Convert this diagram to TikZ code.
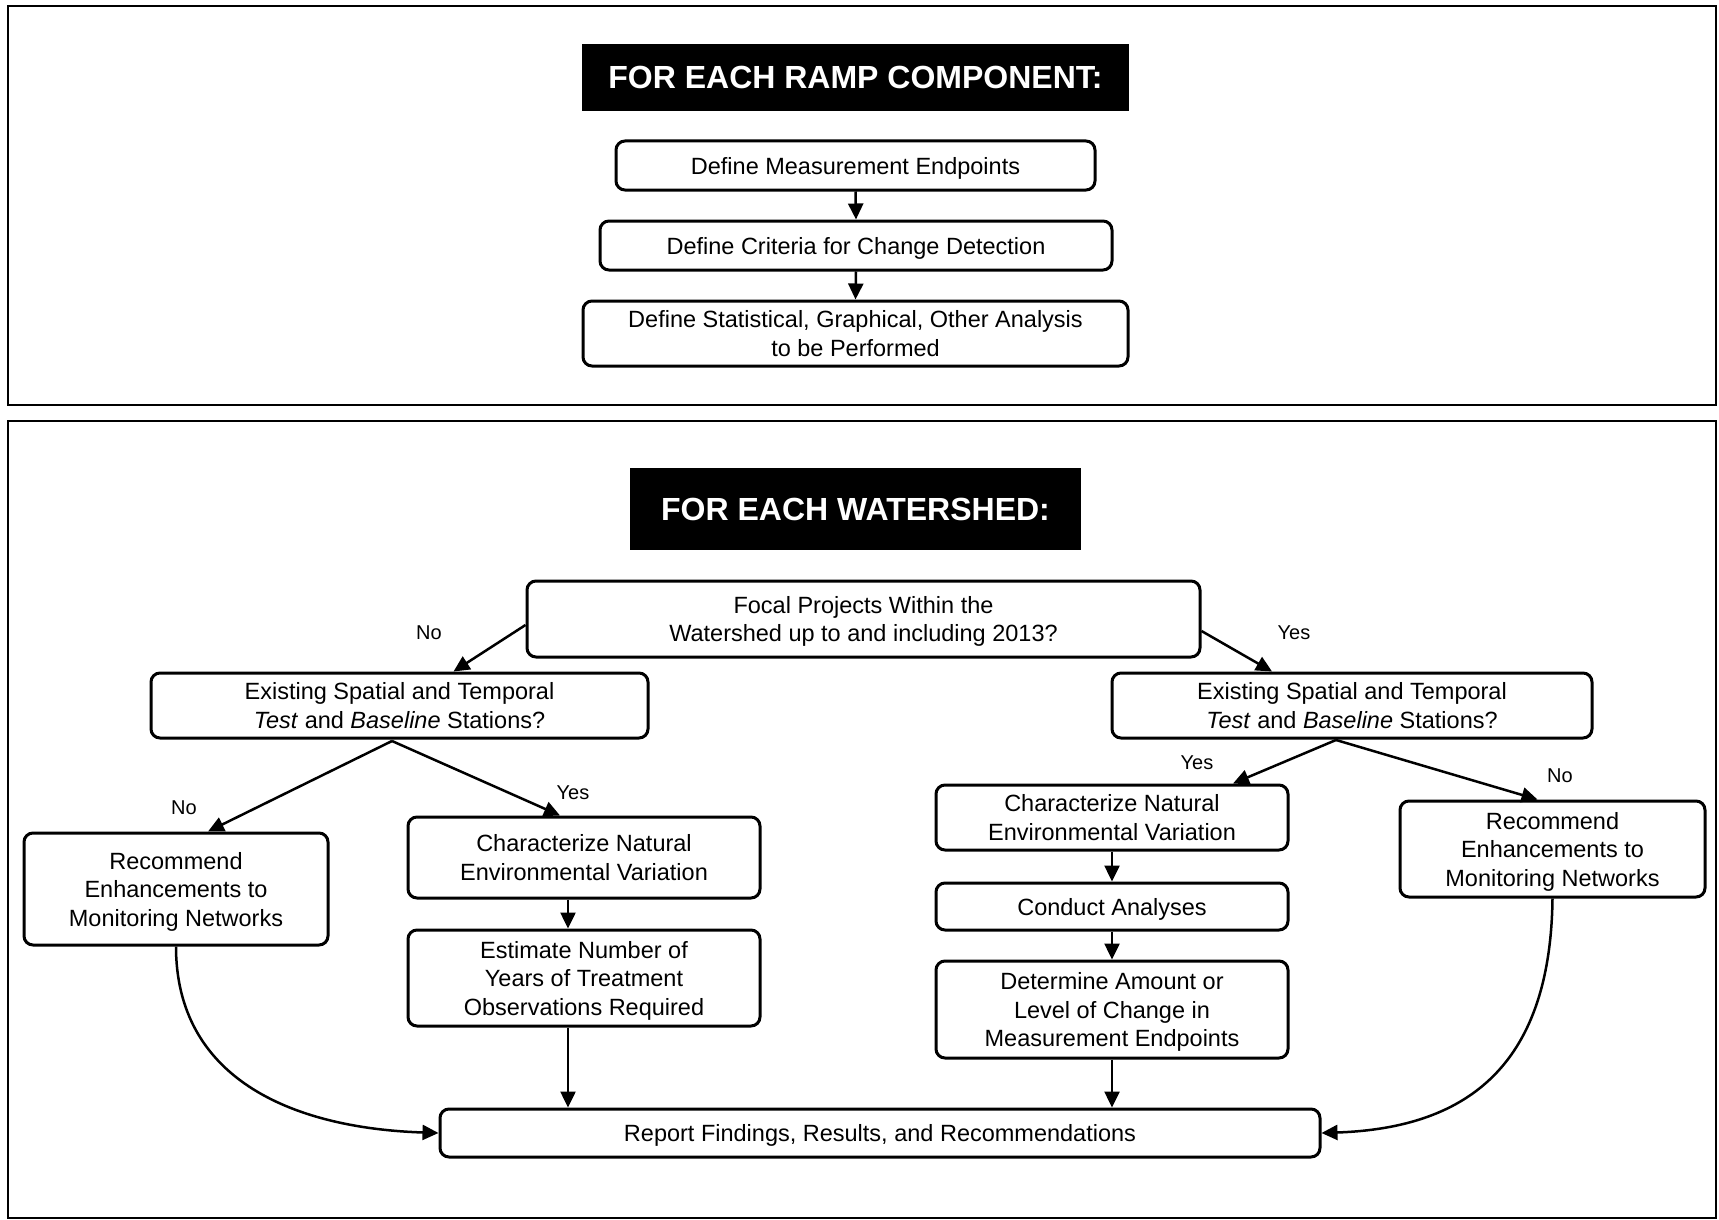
\documentclass[tikz,border=0pt]{standalone}
\usepackage{fontspec}
\setmainfont{Liberation Sans}
\usetikzlibrary{arrows.meta,calc}
\begin{document}
\begin{tikzpicture}[x=1pt,y=-1pt,
 box/.style={draw, line width=3pt, rounded corners=9pt, align=center, inner sep=0pt, text depth=0pt, font=\fontsize{23.5}{28.5}\selectfont},
 hdr/.style={fill=black, text=white, inner sep=0pt, text depth=0pt, font=\fontsize{32}{36}\selectfont\bfseries},
 arr/.style={line width=2.5pt, -{Triangle[length=16pt,width=15pt]}},
 lbl/.style={font=\fontsize{20}{24}\selectfont, inner sep=0pt},
 panel/.style={draw, line width=2.6pt}]
\useasboundingbox (0,0) rectangle (1719,1220);
% panels
\draw[panel] (8,6) rectangle (1716,405);
\draw[panel] (8,421) rectangle (1716,1218);
% top panel
\node[hdr, minimum width=547pt, minimum height=67pt] (h1) at (855.5,77.5) {FOR EACH RAMP COMPONENT:};
\node[box, minimum width=479pt, minimum height=49pt] (m1) at (855.5,165.5) {Define Measurement Endpoints};
\node[box, minimum width=512pt, minimum height=49pt] (m2) at (856,245.5) {Define Criteria for Change Detection};
\node[box, minimum width=545pt, minimum height=65pt] (m3) at (855.5,333.5) {Define Statistical, Graphical, Other Analysis\\to be Performed};
\draw[arr] (m1.south) -- (m2.north);
\draw[arr] (m2.south) -- (m3.north);
% bottom panel
\node[hdr, minimum width=451pt, minimum height=82pt] (h2) at (855.5,509) {FOR EACH WATERSHED:};
\node[box, minimum width=673pt, minimum height=76pt] (fp) at (863.5,619) {Focal Projects Within the\\Watershed up to and including 2013?};
\node[box, minimum width=497pt, minimum height=65pt] (le) at (399.5,705.5) {Existing Spatial and Temporal\\\textit{Test} and \textit{Baseline} Stations?};
\node[box, minimum width=480pt, minimum height=65pt] (re) at (1352,705.5) {Existing Spatial and Temporal\\\textit{Test} and \textit{Baseline} Stations?};
\node[box, minimum width=304pt, minimum height=112pt] (lr) at (176,889) {Recommend\\Enhancements to\\Monitoring Networks};
\node[box, minimum width=352pt, minimum height=81pt] (lc) at (584,857.5) {Characterize Natural\\Environmental Variation};
\node[box, minimum width=352pt, minimum height=96pt] (est) at (584,978) {Estimate Number of\\Years of Treatment\\Observations Required};
\node[box, minimum width=352pt, minimum height=65pt] (rc) at (1112,817.5) {Characterize Natural\\Environmental Variation};
\node[box, minimum width=352pt, minimum height=47pt] (ca) at (1112,906.5) {Conduct Analyses};
\node[box, minimum width=352pt, minimum height=97pt] (dt) at (1112,1009.5) {Determine Amount or\\Level of Change in\\Measurement Endpoints};
\node[box, minimum width=305pt, minimum height=96pt] (rr) at (1552.5,849) {Recommend\\Enhancements to\\Monitoring Networks};
\node[box, minimum width=880pt, minimum height=48pt] (rep) at (880,1133) {Report Findings, Results, and Recommendations};
% labels
\node[lbl] (l1) at (429,633) {No};
\node[lbl] (l2) at (1294,633) {Yes};
\node[lbl] (l3) at (184,808) {No};
\node[lbl] (l4) at (573,793) {Yes};
\node[lbl] (l5) at (1197,763) {Yes};
\node[lbl] (l6) at (1560,776) {No};
% connectors
\draw[arr] ($(fp.west)+(0,6)$) -- ($(le.north)+(54,0)$);
\draw[arr] ($(fp.east)+(0,12)$) -- ($(re.north)+(-80,0)$);
\coordinate (la) at (392,741);
\coordinate (ra) at (1336,740);
\draw[arr] (la) -- ($(lr.north)+(32,0)$);
\draw[arr] (la) -- ($(lc.north)+(-24,0)$);
\draw[arr] (ra) -- ($(rc.north)+(121,0)$);
\draw[arr] (ra) -- ($(rr.north)+(-15,0)$);
\draw[arr] ($(lc.south)+(-16,0)$) -- ($(est.north)+(-16,0)$);
\draw[arr] ($(est.south)+(-16,0)$) -- ($(est.south |- rep.north)+(-16,0)$);
\draw[arr] (rc.south) -- (ca.north);
\draw[arr] (ca.south) -- (dt.north);
\draw[arr] (dt.south) -- (dt.south |- rep.north);
\draw[arr] (lr.south) .. controls ($(lr.south)+(0,130)$) and ($(rep.west)+(-150,-5)$) .. (rep.west);
\draw[arr] (rr.south) .. controls ($(rr.south)+(-2,163)$) and ($(rep.east)+(150,-5)$) .. (rep.east);
\end{tikzpicture}
\end{document}
